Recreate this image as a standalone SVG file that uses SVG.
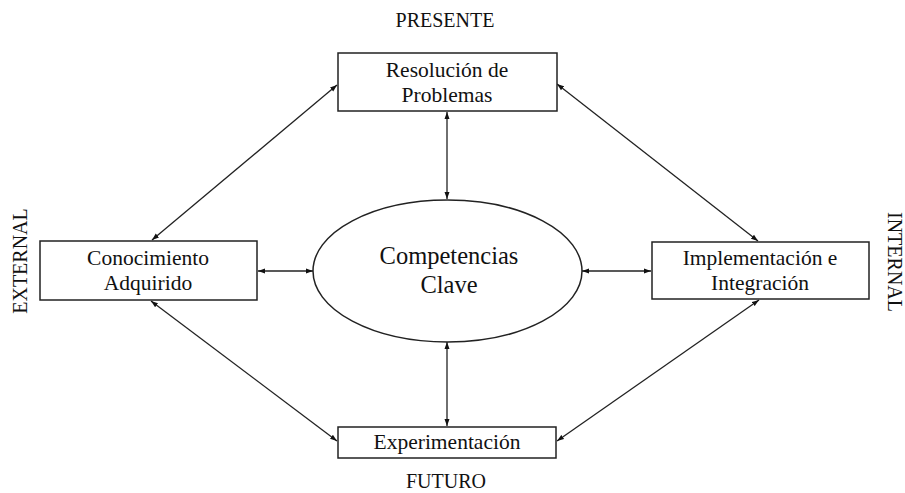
<svg xmlns="http://www.w3.org/2000/svg" width="905" height="493" viewBox="0 0 905 493">
  <style>
    .box { fill: #fff; stroke: #222; stroke-width: 1.5; }
    .lbl { font-family: "Liberation Serif", "Times New Roman", serif; font-size: 21.5px; fill: #111; text-anchor: middle; }
    .edge { font-size: 20px; }
    .big { font-size: 24.5px; }
    .conn line { stroke: #222; stroke-width: 1.3; marker-start: url(#ah); marker-end: url(#ah); }
  </style>
  <defs>
    <marker id="ah" markerUnits="userSpaceOnUse" markerWidth="8" markerHeight="6" refX="7" refY="3" orient="auto-start-reverse">
      <path d="M0,0.5 L7,3 L0,5.5 Z" fill="#111"/>
    </marker>
  </defs>
  <rect width="905" height="493" fill="#fff"/>

  <!-- orientation labels -->
  <text class="lbl edge" x="445" y="27">PRESENTE</text>
  <text class="lbl edge" x="446" y="488">FUTURO</text>
  <text class="lbl edge" transform="translate(27 261) rotate(-90)">EXTERNAL</text>
  <text class="lbl edge" transform="translate(888 262) rotate(90)">INTERNAL</text>

  <!-- connectors -->
  <g id="connectors" class="conn">
    <line x1="447" y1="112" x2="447" y2="199"/>
    <line x1="447" y1="342" x2="447" y2="426"/>
    <line x1="258" y1="271" x2="313" y2="271"/>
    <line x1="582" y1="271" x2="651" y2="271"/>
    <line x1="152" y1="240" x2="337" y2="85"/>
    <line x1="557" y1="84" x2="758" y2="241"/>
    <line x1="151" y1="301" x2="337" y2="441"/>
    <line x1="759" y1="300" x2="557" y2="441"/>
  </g>

  <g id="resolucion">
    <rect class="box" x="338" y="53" width="219" height="58"/>
    <text class="lbl" x="447" y="77">Resolución de</text>
    <text class="lbl" x="447" y="102">Problemas</text>
  </g>

  <g id="conocimiento">
    <rect class="box" x="40" y="241" width="217" height="59"/>
    <text class="lbl" x="148" y="265">Conocimiento</text>
    <text class="lbl" x="148" y="290">Adquirido</text>
  </g>

  <g id="competencias">
    <ellipse class="box" cx="447.5" cy="271" rx="134.5" ry="71"/>
    <text class="lbl big" x="449" y="264">Competencias</text>
    <text class="lbl big" x="449" y="293">Clave</text>
  </g>

  <g id="implementacion">
    <rect class="box" x="652" y="242" width="217" height="57"/>
    <text class="lbl" x="760" y="265">Implementación e</text>
    <text class="lbl" x="760" y="290">Integración</text>
  </g>

  <g id="experimentacion">
    <rect class="box" x="338" y="427" width="218" height="31"/>
    <text class="lbl" x="447" y="449">Experimentación</text>
  </g>
</svg>
